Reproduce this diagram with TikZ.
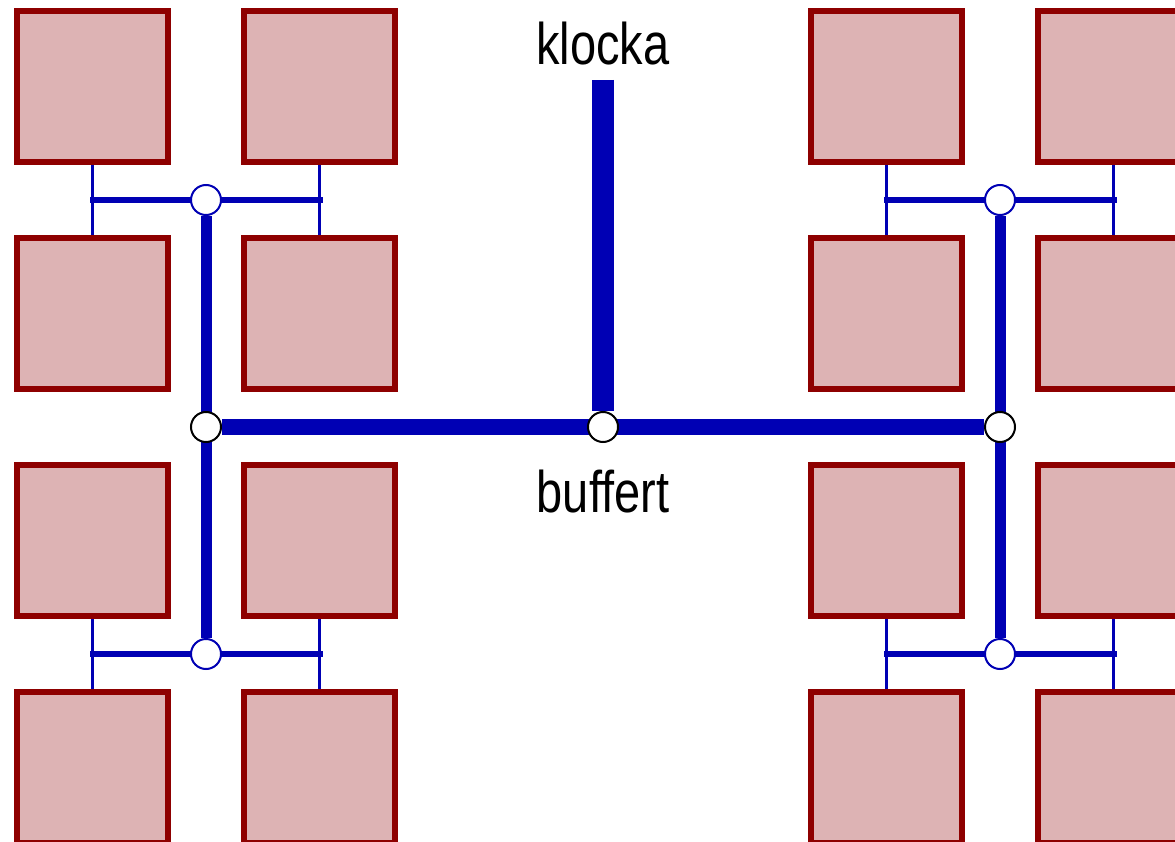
\documentclass[tikz,border=0pt]{standalone}
\usepackage{fontspec}
\setmainfont[FakeStretch=0.8]{Liberation Sans}
\usepackage{tikz}
\usetikzlibrary{backgrounds}
\definecolor{cCell}{HTML}{DDB3B4}
\definecolor{cCellEdge}{HTML}{8E0000}
\definecolor{cWire}{HTML}{0000B4}

\begin{document}
\begin{tikzpicture}[
  x=1pt, y=-1pt,
  cell/.style={rectangle, draw=cCellEdge, fill=cCell, line width=6pt,
               inner sep=0pt, minimum size=151pt},
  tap/.style={circle, draw=cWire, fill=white, line width=2pt, inner sep=0pt,
              minimum size=30pt},
  buf/.style={tap, draw=black},
  stub/.style={draw=cWire, line width=3pt},
  twig/.style={draw=cWire, line width=6pt, line cap=rect},
  branch/.style={draw=cWire, line width=11pt},
  trunk/.style={draw=cWire, line width=16pt},
  root/.style={draw=cWire, line width=22pt},
  lbl/.style={font=\fontsize{58.7pt}{70pt}\selectfont, inner sep=0pt},
]
\useasboundingbox (0,0) rectangle (1175,842);
\clip (0,0) rectangle (1175,842);

% ---------------- cells ----------------
\foreach \col/\x in {1/92.5, 2/319.5, 3/886.5, 4/1113.5}
  \foreach \row/\y in {1/86.5, 2/313.5, 3/540.5, 4/767.5}
    \node (c\row\col) [cell] at (\x,\y) {};

% ---------------- taps and buffers ----------------
\node (tl) [tap] at (206,200) {};
\node (bl) [tap] at (206,654) {};
\node (tr) [tap] at (1000,200) {};
\node (br) [tap] at (1000,654) {};
\node (bufl) [buf] at (206,427) {};
\node (bufc) [buf] at (603,427) {};
\node (bufr) [buf] at (1000,427) {};

% ---------------- labels ----------------
\node (klocka) [lbl, anchor=base] at (603,65) {klocka};
\node (buffert) [lbl, anchor=base] at (603,512) {buffert};
\coordinate (rootTop) at (603,80);

% ---------------- clock tree ----------------
\begin{scope}[on background layer]
  \foreach \col in {1,2,3,4} {
    \draw[stub] (c1\col.south) -- (c2\col.north);
    \draw[stub] (c3\col.south) -- (c4\col.north);
  }
  \draw[twig] (c11.south |- tl) -- (c12.south |- tl);
  \draw[twig] (c31.south |- bl) -- (c32.south |- bl);
  \draw[twig] (c13.south |- tr) -- (c14.south |- tr);
  \draw[twig] (c33.south |- br) -- (c34.south |- br);
  \draw[branch] (tl) -- (bl);
  \draw[branch] (tr) -- (br);
  \draw[trunk] (bufl) -- (bufr);
  \draw[root] (rootTop) -- (bufc);
\end{scope}

\end{tikzpicture}
\end{document}
